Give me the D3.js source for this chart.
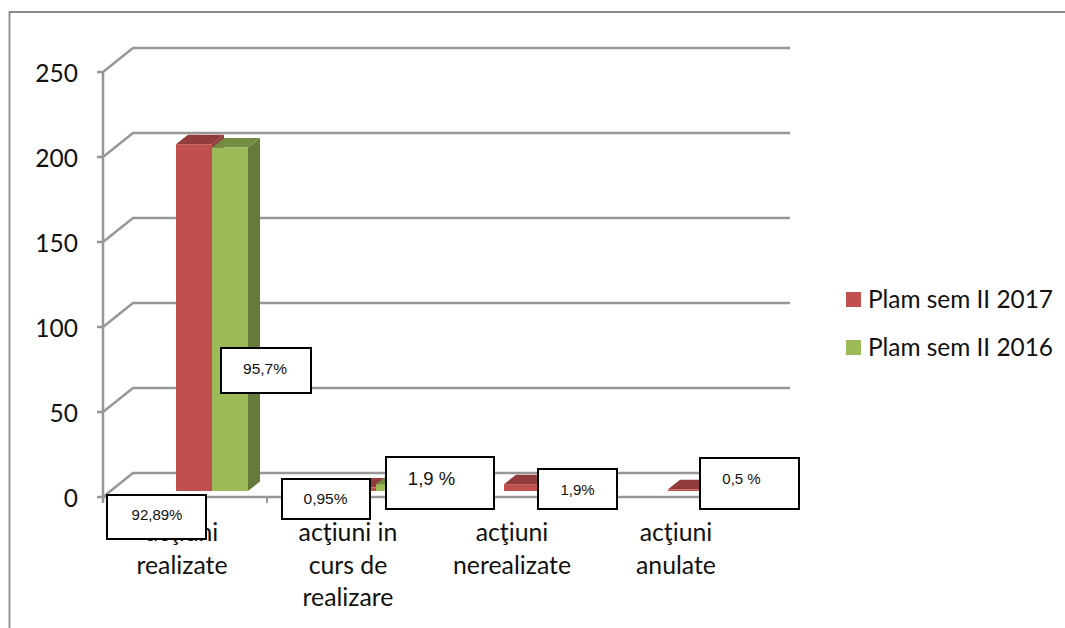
<!DOCTYPE html>
<html><head><meta charset="utf-8">
<script src="https://cdnjs.cloudflare.com/ajax/libs/d3/7.8.5/d3.min.js"></script>
<style>html,body{margin:0;padding:0;background:#fff}svg{display:block}</style>
</head><body><svg id="c" width="1065" height="628"></svg>
<script>
const categories = [["acţiuni","realizate"],["acţiuni in","curs de","realizare"],["acţiuni","nerealizate"],["acţiuni","anulate"]];
const series2017 = [204, 2, 4, 1];
const series2016 = [202, 4, 0, 0];
const seriesNames = ["Plam sem II 2017","Plam sem II 2016"];
const yTicks = [0,50,100,150,200,250];
const noteTexts = ["92,89%","95,7%","0,95%","1,9 %","1,9%","0,5 %"];

// layout, separate from the data
const notePos = [[107,495,99,44,157,520,15],[221,348,90,45,265,374,15.5],[282,479,88,40,325.5,504,15.5],[386,457,108,52,431.5,485,18.5],[538,469,79,40,577.5,495,15],[700,458,99,51,741.5,484,15]];
const colors = [{f:"#c0504d",t:"#8f3c3a",s:"#8f3c3a"},{f:"#9bbb59",t:"#748c42",s:"#667b3b"}];
const depth = {dx:30,dy:-24}, barDepth = {dx:12,dy:-9.5}, barInset = {x:73,y:-6};
const labelFont = "Lato, 'Open Sans', sans-serif";

const svg = d3.select("#c");
const y = d3.scaleLinear().domain([0,250]).range([497,72]);
const x0 = d3.scaleBand().domain(d3.range(categories.length)).range([103,759]);
const x1 = d3.scaleBand().domain([0,1]).range([barInset.x, barInset.x+72]);

// outer frame
svg.append("path").attr("d","M9.5 628V12H1065").attr("fill","none").attr("stroke","#8a8a8a").attr("stroke-width",1.8);

// wall gridlines and their diagonals
const g = svg.append("g").attr("fill","none").attr("stroke","#979797").attr("stroke-width",2.5);
yTicks.forEach(t=>{
  g.append("path").attr("d",`M97 ${y(t)}H${x0.range()[0]}l${depth.dx} ${depth.dy}H${x0.range()[1]+depth.dx+1}`);
});
g.append("line").attr("x1",103).attr("x2",103).attr("y1",y(250)).attr("y2",y(0)+6);
g.append("line").attr("x1",103).attr("x2",759).attr("y1",y(0)).attr("y2",y(0));
d3.range(categories.length+1).forEach(i=>{
  const px = 103 + x0.step()*i;
  g.append("line").attr("x1",px).attr("x2",px).attr("y1",y(0)).attr("y2",y(0)+6).attr("stroke-width",2);
});

// y tick labels
svg.append("g").selectAll("text").data(yTicks).join("text")
  .attr("x",78).attr("y",d=>y(d)+10).attr("text-anchor","end")
  .attr("font-family",labelFont).attr("font-size",24.5).attr("fill","#111").text(d=>d);

// 3D bars
[series2017,series2016].forEach((vals,s)=>{
  const c = colors[s], sg = svg.append("g");
  vals.forEach((v,i)=>{
    if(!v) return;
    const xa = x0(i)+x1(s), w = x1.bandwidth(), yb = y(0)+barInset.y, yt = y(v)+barInset.y;
    const {dx,dy} = barDepth;
    sg.append("path").attr("fill",c.s).attr("d",`M${xa+w} ${yt}l${dx} ${dy}V${yb+dy}l${-dx} ${-dy}Z`);
    sg.append("path").attr("fill",c.t).attr("d",`M${xa} ${yt}l${dx} ${dy}h${w}l${-dx} ${-dy}Z`);
    sg.append("rect").attr("x",xa).attr("y",yt).attr("width",w).attr("height",yb-yt).attr("fill",c.f);
  });
});

// category labels
const lab = svg.append("g").attr("font-family",labelFont).attr("font-size",24.8).attr("fill","#111").attr("text-anchor","middle");
categories.forEach((lines,i)=>{
  const cx = x0(i)+x0.bandwidth()/2 - 1 - (i===0?2:0);
  lines.forEach((l,k)=>lab.append("text").attr("x",cx).attr("y",541+k*32.5).text(l));
});

// legend
const leg = svg.append("g");
seriesNames.forEach((n,i)=>{
  const ly = 292 + i*48;
  leg.append("rect").attr("x",846).attr("y",ly).attr("width",15).attr("height",15).attr("fill",colors[i].f);
  leg.append("text").attr("x",868).attr("y",ly+16).attr("font-family",labelFont).attr("font-size",24.4).attr("fill","#111").text(n);
});

// annotation boxes
const nb = svg.append("g");
noteTexts.forEach((t,i)=>{
  const [bx,by,bw,bh,tx,ty,fs] = notePos[i];
  nb.append("rect").attr("x",bx).attr("y",by).attr("width",bw).attr("height",bh).attr("fill","#fff").attr("stroke","#000").attr("stroke-width",2);
  nb.append("text").attr("x",tx).attr("y",ty).attr("text-anchor","middle").attr("font-family","'Liberation Sans', Arial, sans-serif").attr("font-size",fs).attr("fill","#111").text(t);
});
</script></body></html>
